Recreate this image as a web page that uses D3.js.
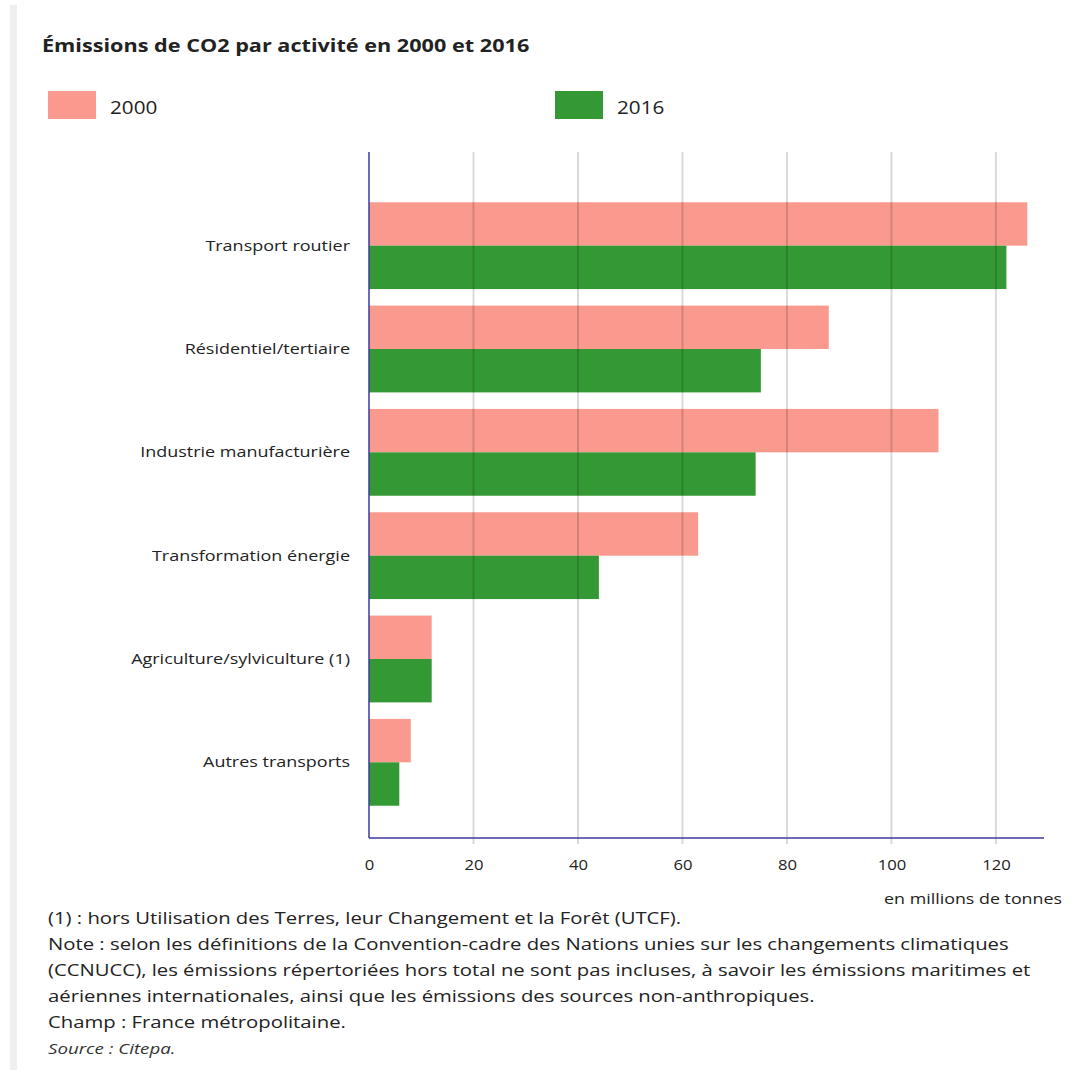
<!DOCTYPE html>
<html>
<head>
<meta charset="utf-8">
<script src="https://cdn.jsdelivr.net/npm/d3@7"></script>
<style>
  body { margin: 0; background: #fff; }
  svg { display: block; font-family: "Open Sans", sans-serif; }
</style>
</head>
<body>
<div id="chart"></div>
<script>
var categories = ["Transport routier", "Résidentiel/tertiaire", "Industrie manufacturière",
    "Transformation énergie", "Agriculture/sylviculture (1)", "Autres transports"];
var series = ["2000", "2016"];
var values2000 = [126, 88, 109, 63, 12, 8];
var values2016 = [122, 75, 74, 44, 12, 5.8];
var xTicks = [0, 20, 40, 60, 80, 100, 120];
var colors = ["#fa998d", "#349834"];
var footnotes = [
    "(1) : hors Utilisation des Terres, leur Changement et la Forêt (UTCF).",
    "Note : selon les définitions de la Convention-cadre des Nations unies sur les changements climatiques",
    "(CCNUCC), les émissions répertoriées hors total ne sont pas incluses, à savoir les émissions maritimes et",
    "aériennes internationales, ainsi que les émissions des sources non-anthropiques.",
    "Champ : France métropolitaine."
];

var W = 1089, H = 1075;
var plot = {left: 369, right: 1044, top: 152, bottom: 838};

var svg = d3.select("#chart").append("svg")
    .attr("width", W)
    .attr("height", H);

// the source picture has its text a bit wider than tall, so stretch it horizontally
function stretch(sel, k) {
    sel.each(function () {
        var t = d3.select(this);
        var tx = +t.attr("x") || 0, ty = +t.attr("y") || 0;
        t.attr("x", 0).attr("y", 0)
            .attr("transform", "translate(" + tx + "," + ty + ") scale(" + k + ",1)");
    });
}

// gray strip on the left
svg.append("rect")
    .attr("x", 10).attr("y", 5)
    .attr("width", 7).attr("height", 1065)
    .attr("fill", "#efefef");

// title
svg.append("text")
    .attr("x", 42).attr("y", 52)
    .attr("font-size", 18.5)
    .attr("font-weight", "bold")
    .attr("fill", "#222")
    .text("Émissions de CO2 par activité en 2000 et 2016")
    .call(stretch, 1.17);

// legend
var legendX = [48, 555];
series.forEach(function (s, i) {
    svg.append("rect")
        .attr("x", legendX[i]).attr("y", 91)
        .attr("width", 48).attr("height", 28)
        .attr("fill", colors[i]);
    svg.append("text")
        .attr("x", legendX[i] + 62).attr("y", 114)
        .attr("font-size", 19)
        .attr("fill", "#222")
        .text(s)
        .call(stretch, 1.09);
});

// scales
var x = d3.scaleLinear()
    .domain([0, 129.2])
    .range([plot.left, plot.right]);

var y0 = d3.scaleBand()
    .domain(categories)
    .range([194, 814])
    .paddingInner(0.16)
    .paddingOuter(0.08);

var y1 = d3.scaleBand()
    .domain(series)
    .range([0, y0.bandwidth()]);

// bars
var data = categories.map(function (c, i) {
    return {cat: c, vals: [values2000[i], values2016[i]]};
});

var groups = svg.append("g").selectAll("g")
    .data(data)
    .enter()
    .append("g")
    .attr("transform", function (d) { return "translate(0," + y0(d.cat) + ")"; });

groups.selectAll("rect")
    .data(function (d) { return d.vals.map(function (v, i) { return {s: series[i], v: v, i: i}; }); })
    .enter()
    .append("rect")
    .attr("x", x(0))
    .attr("y", function (d) { return y1(d.s); })
    .attr("width", function (d) { return x(d.v) - x(0); })
    .attr("height", y1.bandwidth())
    .attr("fill", function (d) { return colors[d.i]; });

// grid lines (drawn over the bars, semi transparent)
svg.append("g").selectAll("line")
    .data(xTicks.slice(1))
    .enter()
    .append("line")
    .attr("x1", function (d) { return x(d); })
    .attr("x2", function (d) { return x(d); })
    .attr("y1", plot.top)
    .attr("y2", plot.bottom + 6)
    .attr("stroke", "rgba(0,0,0,0.15)")
    .attr("stroke-width", 2);

// x axis
var xAxis = svg.append("g")
    .attr("transform", "translate(0," + plot.bottom + ")")
    .call(d3.axisBottom(x).tickValues(xTicks).tickSize(0).tickPadding(22));
xAxis.select(".domain").remove();
xAxis.selectAll("text")
    .attr("font-size", 14.5)
    .attr("font-family", "Open Sans, sans-serif")
    .attr("fill", "#222")
    .attr("transform", "scale(1.15,1)");

// axis lines
svg.append("line")
    .attr("x1", plot.left).attr("x2", plot.right)
    .attr("y1", plot.bottom).attr("y2", plot.bottom)
    .attr("stroke", "#3a3aa0").attr("stroke-width", 1.5);
svg.append("line")
    .attr("x1", plot.left).attr("x2", plot.left)
    .attr("y1", plot.top).attr("y2", plot.bottom)
    .attr("stroke", "#3a3aa0").attr("stroke-width", 1.5);

// category labels
svg.append("g").selectAll("text")
    .data(categories)
    .enter()
    .append("text")
    .attr("x", 350)
    .attr("y", function (d) { return y0(d) + y0.bandwidth() / 2 + 5; })
    .attr("text-anchor", "end")
    .attr("font-size", 14.5)
    .attr("fill", "#222")
    .text(function (d) { return d; })
    .call(stretch, 1.24);

// unit
svg.append("text")
    .attr("x", 1062).attr("y", 904)
    .attr("text-anchor", "end")
    .attr("font-size", 14.5)
    .attr("fill", "#222")
    .text("en millions de tonnes")
    .call(stretch, 1.23);

// footnotes
svg.append("g").selectAll("text")
    .data(footnotes)
    .enter()
    .append("text")
    .attr("x", 48)
    .attr("y", function (d, i) { return 924 + i * 26; })
    .attr("font-size", 16.5)
    .attr("fill", "#222")
    .text(function (d) { return d; })
    .call(stretch, 1.23);

svg.append("text")
    .attr("x", 48).attr("y", 1054)
    .attr("font-size", 14.5)
    .attr("font-style", "italic")
    .attr("fill", "#333")
    .text("Source : Citepa.")
    .call(stretch, 1.29);
</script>
</body>
</html>
